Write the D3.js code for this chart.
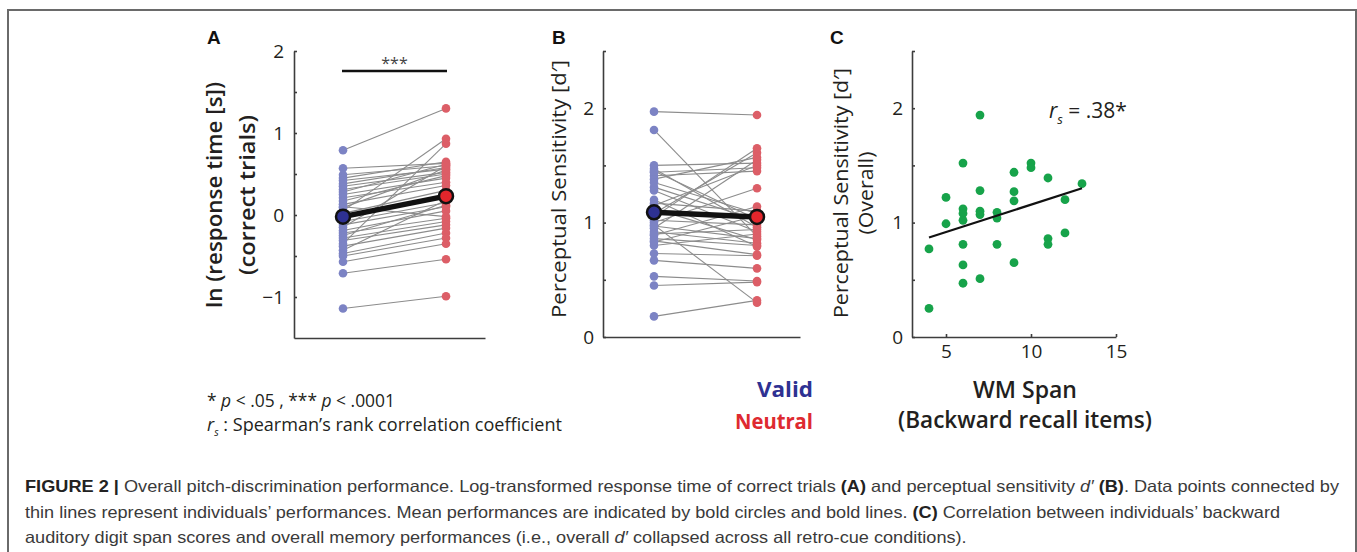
<!DOCTYPE html>
<html><head><meta charset="utf-8">
<script src="https://cdn.jsdelivr.net/npm/d3@7"></script>
<style>
html,body{margin:0;padding:0;background:#fff;}
svg{display:block;}
</style></head>
<body>
<svg id="fig" width="1357" height="552"></svg>
<script>
// ---------- data ----------
const conditions = ["Valid", "Neutral"];
// Panel A: ln(response time) per participant
const rtValid   = [0.79,0.57,0.49,0.45,0.42,0.38,0.35,0.31,0.28,0.25,0.21,0.17,0.13,0.09,0.05,0.02,-0.04,-0.08,-0.12,-0.15,-0.19,-0.22,-0.25,-0.28,-0.31,-0.35,-0.38,-0.43,-0.47,-0.50,-0.57,-0.71,-1.14,0.10];
const rtNeutral = [1.30,0.63,0.60,0.65,0.56,0.58,0.52,0.50,0.62,0.45,0.40,0.48,0.36,0.55,0.93,0.30,0.22,0.15,0.10,0.60,0.05,-0.04,0.12,-0.08,-0.12,0.87,-0.16,0.18,-0.22,-0.28,-0.35,-0.54,-0.99,-0.02];
const rtMeans = [-0.02, 0.23];
// Panel B: d' per participant
const dValid   = [1.97,1.81,1.50,1.47,1.44,1.41,1.38,1.31,1.28,1.17,1.12,1.08,1.05,1.00,0.98,0.95,0.92,0.89,0.86,0.83,0.80,0.73,0.67,0.53,0.45,0.18,1.02,1.15,0.97,0.90,1.35,1.45,0.84,1.20];
const dNeutral = [1.94,0.88,1.52,0.96,1.48,1.45,1.57,1.02,0.92,1.10,0.85,1.61,1.65,1.30,0.30,1.55,0.82,1.14,0.80,1.06,0.90,0.71,0.60,0.49,0.48,0.32,0.98,1.50,0.86,0.94,1.08,1.03,0.72,0.79];
const dMeans = [1.09, 1.05];
// Panel C: WM span vs overall d'
const span    = [4,4,5,5,6,6,6,6,6,6,6,7,7,7,7,7,8,8,8,9,9,9,9,10,10,11,11,11,12,12,13];
const dOverall= [0.77,0.25,1.22,0.99,1.52,1.12,1.08,1.02,0.81,0.63,0.47,1.94,1.28,1.10,1.07,0.51,1.09,1.04,0.81,1.44,1.27,1.19,0.65,1.52,1.48,1.39,0.86,0.81,1.20,0.91,1.34];
const fitLine = [[4,0.87],[13,1.30]];
const rsText = ".38*";

const ticksA = [-1,-0.5,0,0.5,1,1.5,2];
const ticksD = [0,0.5,1,1.5,2,2.5];
const ticksSpan = [5,10,15];

// ---------- style ----------
const colValid = "#7c83c4", colNeutral = "#dc5e67";
const colValidMean = "#2e3192", colNeutralMean = "#e2262c";
const axisCol = "#3d3d3d";
const fontSans = "'Open Sans','Noto Sans',sans-serif";

const svg = d3.select("#fig");

// frame
svg.append("path").attr("d","M8,560 V10 H1356 V560")
  .attr("fill","none").attr("stroke","#6a6a6a").attr("stroke-width",2);

function styleAxis(g){
  g.select(".domain").attr("stroke",axisCol).attr("stroke-width",1.6);
  g.selectAll(".tick line").attr("stroke",axisCol).attr("stroke-width",1.6);
  g.selectAll(".tick text").attr("fill","#231f20").attr("font-family",fontSans).attr("font-size",19);
}
const intFmt = d => Number.isInteger(d) ? d3.format("d")(d) : "";

// ---------- Panel A ----------
const yA = d3.scaleLinear().domain([-1.5,2]).range([338,51]);
const xA = d3.scalePoint().domain(conditions).range([343,446]);
const xAaxis = d3.scaleLinear().domain([0,1]).range([294,485]);

const gA = svg.append("g");
gA.append("g").attr("transform","translate(294,0)")
  .call(d3.axisLeft(yA).tickValues(ticksA).tickFormat(intFmt).tickSizeInner(-3).tickSizeOuter(0).tickPadding(10))
  .call(styleAxis);
gA.append("g").attr("transform","translate(0,338)")
  .call(d3.axisBottom(xAaxis).tickValues([]).tickSizeOuter(0)).call(styleAxis);

function pairedPanel(g, x, y, vals1, vals2, means){
  const pairs = vals1.map((v,i)=>[v, vals2[i]]);
  g.selectAll(".pl").data(pairs).join("line")
    .attr("x1",x(conditions[0])).attr("x2",x(conditions[1]))
    .attr("y1",d=>y(d[0])).attr("y2",d=>y(d[1]))
    .attr("stroke","#8c8c8c").attr("stroke-width",1.1);
  g.selectAll(".pv").data(vals1).join("circle")
    .attr("cx",x(conditions[0])).attr("cy",d=>y(d)).attr("r",4.3).attr("fill",colValid);
  g.selectAll(".pn").data(vals2).join("circle")
    .attr("cx",x(conditions[1])).attr("cy",d=>y(d)).attr("r",4.3).attr("fill",colNeutral);
  g.append("line")
    .attr("x1",x(conditions[0])).attr("x2",x(conditions[1]))
    .attr("y1",y(means[0])).attr("y2",y(means[1]))
    .attr("stroke","#111").attr("stroke-width",5.5);
  g.selectAll(".mc").data(means).join("circle")
    .attr("cx",(d,i)=>x(conditions[i])).attr("cy",d=>y(d)).attr("r",7)
    .attr("fill",(d,i)=> i===0 ? colValidMean : colNeutralMean)
    .attr("stroke","#111").attr("stroke-width",2.5);
}
pairedPanel(gA.append("g"), xA, yA, rtValid, rtNeutral, rtMeans);

// significance
gA.append("line").attr("x1",xA("Valid")-1).attr("x2",xA("Neutral")+1)
  .attr("y1",71).attr("y2",71).attr("stroke","#111").attr("stroke-width",2.5);
gA.append("text").attr("x",(xA("Valid")+xA("Neutral"))/2).attr("y",69)
  .attr("text-anchor","middle").attr("font-family",fontSans).attr("font-size",16).attr("fill","#444").text("***");

// y label A
const labA = gA.append("g").attr("font-family",fontSans).attr("font-weight",600).attr("font-size",21).attr("fill","#231f20").attr("text-anchor","middle");
labA.append("text").attr("transform","translate(222,195) rotate(-90)").attr("textLength",226).attr("lengthAdjust","spacingAndGlyphs").text("ln (response time [s])");
labA.append("text").attr("transform","translate(255,195) rotate(-90)").attr("textLength",160).attr("lengthAdjust","spacingAndGlyphs").text("(correct trials)");

// ---------- Panel B ----------
const yB = d3.scaleLinear().domain([0,2.5]).range([337,51]);
const xB = d3.scalePoint().domain(conditions).range([654,757]);
const xBaxis = d3.scaleLinear().domain([0,1]).range([603,800]);
const gB = svg.append("g");
gB.append("g").attr("transform","translate(603,0)")
  .call(d3.axisLeft(yB).tickValues(ticksD).tickFormat(intFmt).tickSizeInner(-3).tickSizeOuter(0).tickPadding(9))
  .call(styleAxis);
gB.append("g").attr("transform","translate(0,337)")
  .call(d3.axisBottom(xBaxis).tickValues([]).tickSizeOuter(0)).call(styleAxis);
pairedPanel(gB.append("g"), xB, yB, dValid, dNeutral, dMeans);
gB.append("text").attr("transform","translate(566,189) rotate(-90)")
  .attr("text-anchor","middle").attr("font-family",fontSans).attr("font-size",20).attr("fill","#231f20")
  .attr("textLength",258).attr("lengthAdjust","spacingAndGlyphs").text("Perceptual Sensitivity [d′]");

// ---------- Panel C ----------
const xC = d3.scaleLinear().domain([3,15]).range([912,1116]);
const yC = d3.scaleLinear().domain([0,2.5]).range([337,51]);
const gC = svg.append("g");
gC.append("g").attr("transform","translate(912,0)")
  .call(d3.axisLeft(yC).tickValues(ticksD).tickFormat(intFmt).tickSizeInner(-3).tickSizeOuter(0).tickPadding(9))
  .call(styleAxis);
gC.append("g").attr("transform","translate(0,337)")
  .call(d3.axisBottom(xC).tickValues(ticksSpan).tickFormat(d3.format("d")).tickSizeInner(-3).tickSizeOuter(0).tickPadding(8))
  .call(styleAxis);
gC.selectAll(".dot").data(span.map((s,i)=>[s,dOverall[i]])).join("circle")
  .attr("cx",d=>xC(d[0])).attr("cy",d=>yC(d[1])).attr("r",4.4).attr("fill","#17a34a");
gC.append("line").attr("x1",xC(fitLine[0][0])).attr("y1",yC(fitLine[0][1]))
  .attr("x2",xC(fitLine[1][0])).attr("y2",yC(fitLine[1][1]))
  .attr("stroke","#111").attr("stroke-width",2.2);
const rs = gC.append("text").attr("x",1049).attr("y",118).attr("font-family",fontSans).attr("font-size",21).attr("fill","#231f20");
rs.append("tspan").attr("font-style","italic").text("r");
rs.append("tspan").attr("font-size",13).attr("dy",6).attr("font-style","italic").text("s");
rs.append("tspan").attr("dy",-6).text(" = " + rsText);

const labC = gC.append("g").attr("font-family",fontSans).attr("font-size",20).attr("fill","#231f20").attr("text-anchor","middle");
labC.append("text").attr("transform","translate(848,193) rotate(-90)").attr("textLength",250).attr("lengthAdjust","spacingAndGlyphs").text("Perceptual Sensitivity [d′]");
labC.append("text").attr("transform","translate(873,193) rotate(-90)").attr("textLength",83).attr("lengthAdjust","spacingAndGlyphs").text("(Overall)");

const xlabC = gC.append("g").attr("font-family",fontSans).attr("font-weight",600).attr("font-size",23).attr("fill","#231f20").attr("text-anchor","middle");
xlabC.append("text").attr("x",1025).attr("y",398).attr("textLength",104).attr("lengthAdjust","spacingAndGlyphs").text("WM Span");
xlabC.append("text").attr("x",1025).attr("y",428).attr("textLength",254).attr("lengthAdjust","spacingAndGlyphs").text("(Backward recall items)");

// ---------- panel letters ----------
const letters = [["A",207],["B",552],["C",830]];
svg.selectAll(".letter").data(letters).join("text")
  .attr("x",d=>d[1]).attr("y",44).attr("font-family","'Liberation Sans',Arial,sans-serif")
  .attr("font-weight","bold").attr("font-size",19).attr("fill","#111").text(d=>d[0]);

// ---------- legend ----------
const leg = svg.append("g").attr("font-family",fontSans).attr("font-weight",700).attr("font-size",21).attr("text-anchor","end");
leg.append("text").attr("x",813).attr("y",397).attr("fill",colValidMean).attr("textLength",56).attr("lengthAdjust","spacingAndGlyphs").text(conditions[0]);
leg.append("text").attr("x",813).attr("y",429).attr("fill","#de2a30").attr("textLength",78).attr("lengthAdjust","spacingAndGlyphs").text(conditions[1]);

// ---------- footnote ----------
const fn = svg.append("g").attr("font-family",fontSans).attr("font-size",17.5).attr("fill","#231f20");
const f1 = fn.append("text").attr("x",207).attr("y",407).attr("textLength",188).attr("lengthAdjust","spacingAndGlyphs");
f1.append("tspan").text("* ");
f1.append("tspan").attr("font-style","italic").text("p");
f1.append("tspan").text(" < .05 , *** ");
f1.append("tspan").attr("font-style","italic").text("p");
f1.append("tspan").text(" < .0001");
const f2 = fn.append("text").attr("x",207).attr("y",431);
f2.append("tspan").attr("font-style","italic").text("r");
f2.append("tspan").attr("font-size",10).attr("dy",5).attr("font-style","italic").text("s");
f2.append("tspan").attr("dy",-5).text(" : Spearman’s rank correlation coefficient");
f2.attr("textLength",355).attr("lengthAdjust","spacingAndGlyphs");

// ---------- caption ----------
const cap = svg.append("g").attr("font-family","'Liberation Sans',Arial,sans-serif").attr("font-size",16.5).attr("fill","#3a3a3a");
const captionLines = [
  {y:492, len:1314, parts:[["FIGURE 2 | ","b"],["Overall pitch-discrimination performance. Log-transformed response time of correct trials ",""],["(A)","b"],[" and perceptual sensitivity ",""],["d′","i"],[" ",""],["(B)","b"],[". Data points connected by",""]]},
  {y:518, len:1255, parts:[["thin lines represent individuals’ performances. Mean performances are indicated by bold circles and bold lines. ",""],["(C)","b"],[" Correlation between individuals’ backward",""]]},
  {y:543, len:null, parts:[["auditory digit span scores and overall memory performances (i.e., overall ",""],["d′","i"],[" collapsed across all retro-cue conditions).",""]]}
];
const capTexts = captionLines.map(l=>{
  const t = cap.append("text").attr("x",25).attr("y",l.y);
  l.parts.forEach(p=>{
    const ts = t.append("tspan").text(p[0]);
    if(p[1]==="b") ts.attr("font-weight","bold").attr("fill","#222");
    if(p[1]==="i") ts.attr("font-style","italic");
  });
  return t;
});
// one common horizontal scale so that all caption lines share the same look
const naturals = capTexts.map(t=>t.node().getComputedTextLength());
const ratios = captionLines.map((l,i)=> l.len ? l.len/naturals[i] : null).filter(r=>r);
const sc = d3.mean(ratios);
capTexts.forEach((t,i)=>{
  t.attr("textLength", captionLines[i].len || naturals[i]*sc).attr("lengthAdjust","spacingAndGlyphs");
});
</script>
</body></html>
